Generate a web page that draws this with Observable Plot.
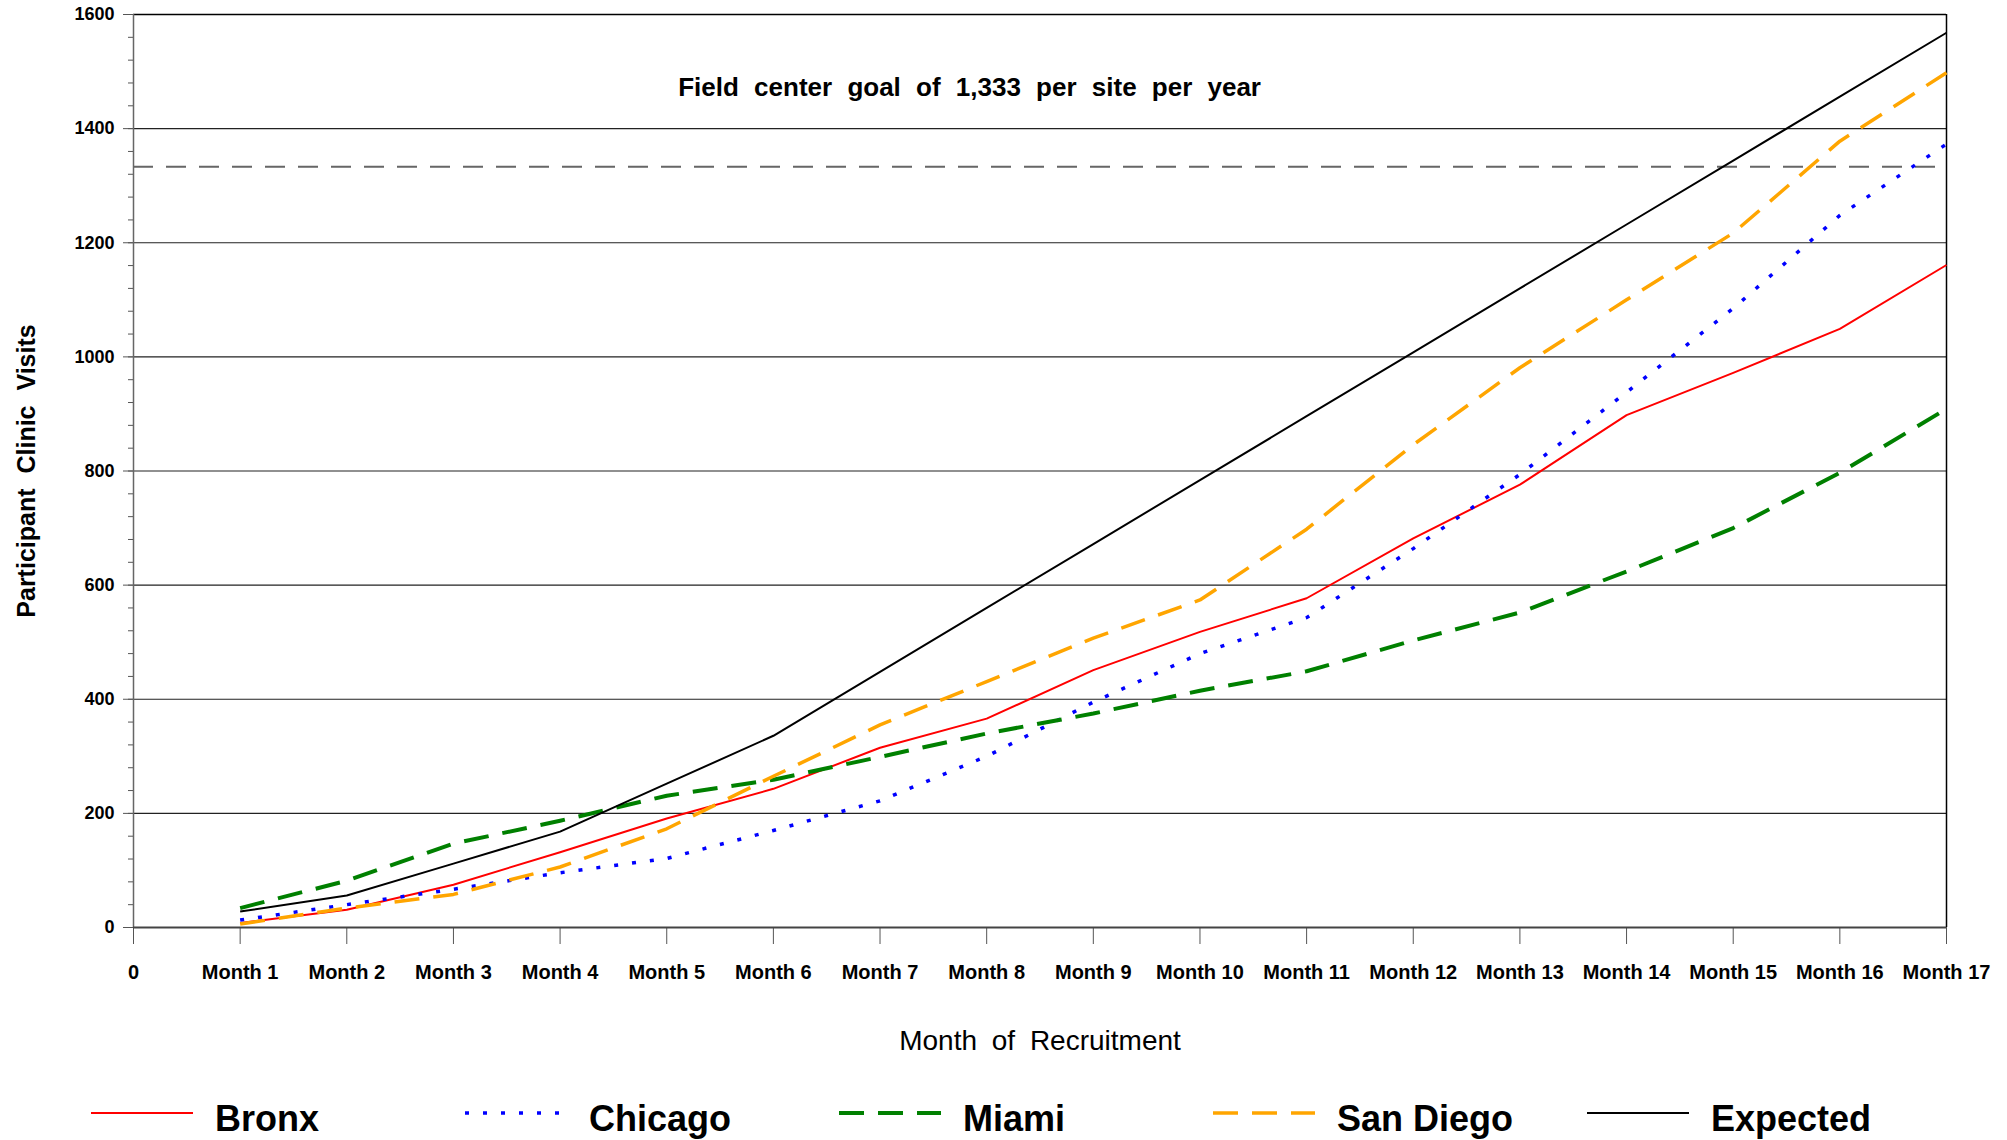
<!DOCTYPE html>
<html><head><meta charset="utf-8">
<script src="https://cdn.jsdelivr.net/npm/d3@7"></script>
<script src="https://cdn.jsdelivr.net/npm/@observablehq/plot@0.6"></script>
<style>
html,body{margin:0;padding:0;background:#fff;}
body{width:2007px;height:1140px;position:relative;overflow:hidden;font-family:"Liberation Sans Narrow","Liberation Sans",Arial,sans-serif;}
#chart{position:absolute;left:0;top:0;}
#legend{position:absolute;left:0;top:1094px;width:2007px;height:50px;}
.item{position:absolute;top:0;height:50px;display:flex;align-items:center;}
.item span{font-weight:bold;font-size:36px;margin-left:22px;color:#000;line-height:1;}
</style></head><body>
<div id="chart"></div><div id="legend"></div>
<script>
// ---- data ----
const months = [1,2,3,4,5,6,7,8,9,10,11,12,13,14,15,16,17];
const bronx    = [8,31,75,132,191,243,315,366,451,518,577,682,776,898,972,1049,1161];
const chicago  = [13,40,67,96,121,170,222,300,395,480,543,664,794,938,1085,1248,1373];
const miami    = [34,82,147,187,231,259,299,340,375,415,449,503,552,624,700,797,909];
const sanDiego = [6,34,58,106,173,265,355,431,507,574,698,846,981,1100,1217,1378,1498];
const expected = [28,56,112,168,252,336,448,560,672,784,896,1008,1120,1232,1344,1456,1568];
const siteNames = ["Bronx","Chicago","Miami","San Diego","Expected"];
const goal = 1333;
const goalLabel = "Field center goal of 1,333 per site per year";
const goalLabelPos = {month: 7.84, value: 1472};
const yMajorTicks = [0,200,400,600,800,1000,1200,1400,1600];
const xTicks = [0,1,2,3,4,5,6,7,8,9,10,11,12,13,14,15,16,17];
const xTickLabels = ["0","Month 1","Month 2","Month 3","Month 4","Month 5","Month 6","Month 7","Month 8","Month 9","Month 10","Month 11","Month 12","Month 13","Month 14","Month 15","Month 16","Month 17"];
const xTitle = "Month of Recruitment";
const yTitle = "Participant Clinic Visits";

// ---- styles ----
const styles = {
  "Bronx":     {stroke:"#ff0000", strokeWidth:2,   dash:null},
  "Chicago":   {stroke:"#0000ff", strokeWidth:3.5, dash:"4,14"},
  "Miami":     {stroke:"#008000", strokeWidth:4,   dash:"25,14"},
  "San Diego": {stroke:"#ffa500", strokeWidth:3.5, dash:"25,14"},
  "Expected":  {stroke:"#000000", strokeWidth:2,   dash:null}
};
const valuesBySite = {"Bronx":bronx,"Chicago":chicago,"Miami":miami,"San Diego":sanDiego,"Expected":expected};
const rows = siteNames.flatMap(s => valuesBySite[s].map((v,i)=>({site:s, month:months[i], value:v})));
const yMinorTicks = d3.range(0, 1601, 40);
const font = '"Liberation Sans Narrow","Liberation Sans",Arial,sans-serif';

const W = 2007, H = 1075;
const chart = Plot.plot({
  width: W, height: H,
  marginLeft: 133, marginRight: 61, marginTop: 14, marginBottom: 148,
  style: {fontFamily: font, background: "#fff", color: "#000"},
  x: {domain: [0,17]},
  y: {domain: [0,1600]},
  marks: [
    Plot.ruleY(yMajorTicks.filter(v => v > 0 && v < 1600), {stroke:"#222", strokeWidth:1.2}),
    Plot.ruleY([goal], {stroke:"#666", strokeWidth:2, strokeDasharray:"20,13"}),
    Plot.ruleY([1600], {stroke:"#000", strokeWidth:1.5}),
    Plot.ruleX([17], {stroke:"#000", strokeWidth:1.5}),
    Plot.axisY({ticks: yMinorTicks, tickSize: 5, tickFormat: () => "", stroke:"#555", label: null}),
    Plot.axisY({ticks: yMajorTicks, tickSize: 10, tickPadding: 9, fontSize: 18, fontWeight: "bold", stroke:"#555", fill:"#000",
      tickFormat: d => String(d), label: null}),
    Plot.axisX({ticks: xTicks, tickSize: 17, tickPadding: 20, fontSize: 20, fontWeight: "bold", stroke:"#555", fill:"#000",
      tickFormat: d => xTickLabels[xTicks.indexOf(d)], label: null}),
    Plot.ruleX([0], {stroke:"#666", strokeWidth:1.5}),
    Plot.ruleY([0], {stroke:"#444", strokeWidth:2}),
    ...siteNames.map(s => Plot.line(rows.filter(r => r.site === s), {
      x: "month", y: "value",
      stroke: styles[s].stroke, strokeWidth: styles[s].strokeWidth,
      strokeDasharray: styles[s].dash, strokeLinecap: "butt", strokeLinejoin: "round"
    })),
    Plot.text([goalLabelPos], {x: "month", y: "value", text: () => goalLabel, fontSize: 26, fontWeight: "bold", fill: "#000"}),
    Plot.text([xTitle], {frameAnchor: "bottom", dy: 114, lineAnchor: "middle", textAnchor: "middle", text: d => d, fontSize: 28, fill: "#000"}),
    Plot.text([yTitle], {frameAnchor: "left", dx: -107, rotate: -90, textAnchor: "middle", lineAnchor: "middle", text: d => d, fontSize: 25, fontWeight: "bold", fill: "#000"})
  ]
});
document.getElementById("chart").appendChild(chart);

// wider word gaps, as in the original typesetting
const gaps = {[goalLabel]: "8px", [xTitle]: "7px", [yTitle]: "8px"};
d3.select(chart).selectAll("text").each(function() {
  const t = this.textContent;
  if (gaps[t]) this.style.wordSpacing = gaps[t];
});

// ---- legend ----
const legend = document.getElementById("legend");
siteNames.forEach((s, i) => {
  const st = styles[s];
  const item = document.createElement("div");
  item.className = "item";
  item.style.left = (91 + i * 374) + "px";
  item.innerHTML = `<svg width="102" height="50"><line x1="0" x2="102" y1="19" y2="19" stroke="${st.stroke}" stroke-width="${st.strokeWidth}" ${st.dash ? `stroke-dasharray="${st.dash}"` : ""}/></svg><span>${s}</span>`;
  legend.appendChild(item);
});
</script>
</body></html>
